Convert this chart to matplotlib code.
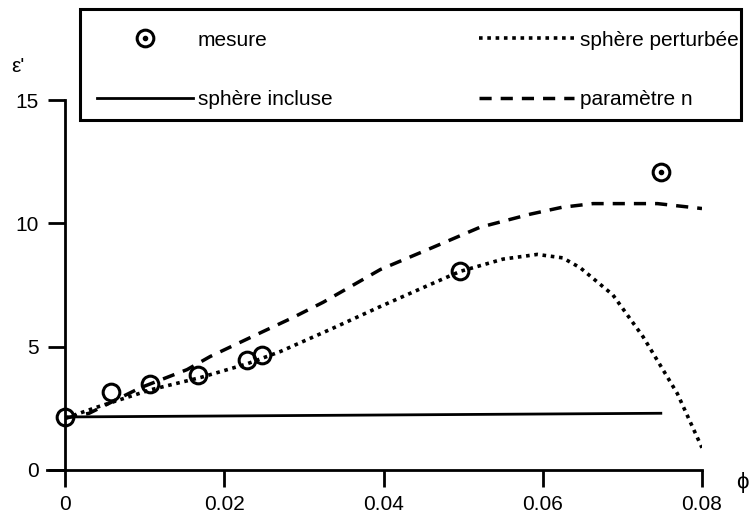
import matplotlib
matplotlib.use("Agg")
import matplotlib.pyplot as plt
from matplotlib.lines import Line2D
from matplotlib.patches import Rectangle

plt.rcParams['font.family'] = ['Liberation Sans', 'DejaVu Sans']

# mesures
phi_mes = [0.0, 0.0057, 0.0107, 0.0167, 0.0228, 0.0247, 0.0496, 0.0749]
eps_mes = [2.15, 3.15, 3.5, 3.85, 4.45, 4.65, 8.05, 12.1]

# sphere incluse
phi_inc = [0.0, 0.025, 0.05, 0.075]
eps_inc = [2.15, 2.2, 2.25, 2.3]

# sphere perturbee
phi_pert = [0.0, 0.004, 0.0107, 0.017, 0.0228, 0.027, 0.0333, 0.0396, 0.045,
            0.0496, 0.055, 0.0593, 0.0625, 0.0647, 0.0688, 0.0726, 0.0769, 0.08]
eps_pert = [2.1, 2.55, 3.25, 3.75, 4.3, 4.8, 5.7, 6.63, 7.4,
            8.05, 8.55, 8.74, 8.6, 8.2, 7.1, 5.4, 3.1, 0.9]

# parametre n
phi_n = [0.0, 0.003, 0.0094, 0.0153, 0.0182, 0.0241, 0.0286, 0.0324, 0.0396,
         0.046, 0.0521, 0.0584, 0.0624, 0.0663, 0.0744, 0.08]
eps_n = [2.1, 2.3, 3.33, 4.07, 4.6, 5.5, 6.18, 6.8, 8.13,
         9.0, 9.84, 10.37, 10.65, 10.8, 10.8, 10.6]

xticks = [0, 0.02, 0.04, 0.06, 0.08]
xticklabels = ["0", "0.02", "0.04", "0.06", "0.08"]
yticks = [0, 5, 10, 15]

dot_style = (0, (1.0, 1.3))
dash_style = (0, (3.5, 2.6))

fig = plt.figure(figsize=(7.52, 5.15), dpi=100)
ax = fig.add_axes([0.0625, 0.0874, 0.871, 0.7184])

ax.plot(phi_inc, eps_inc, color='black', lw=2.0, solid_capstyle='butt')
ax.plot(phi_pert, eps_pert, color='black', lw=2.6, linestyle=dot_style,
        dash_capstyle='butt')
ax.plot(phi_n, eps_n, color='black', lw=2.5, linestyle=dash_style)
ax.plot(phi_mes, eps_mes, linestyle='none', marker='o', markersize=12,
        markerfacecolor='none', markeredgecolor='black', markeredgewidth=2.2,
        clip_on=False, zorder=5)
ax.plot(phi_mes[-1:], eps_mes[-1:], linestyle='none', marker='o', markersize=3,
        color='black', zorder=6)

ax.set_xlim(-0.0023, 0.08)
ax.set_ylim(0, 15)
ax.spines['left'].set_position(('data', 0))
ax.spines['top'].set_visible(False)
ax.spines['right'].set_visible(False)
for s in ['left', 'bottom']:
    ax.spines[s].set_linewidth(2.0)

ax.set_xticks(xticks)
ax.set_xticklabels(xticklabels)
ax.set_yticks(yticks)
ax.tick_params(direction='out', length=12, width=2.0, labelsize=15, pad=6)
ax.tick_params(axis='y', pad=7)

fig.text(0.015, 0.87, "ε'", fontsize=15, ha='left', va='center')
fig.text(0.995, 0.063, "ϕ", fontsize=16, ha='right', va='center')

# legend box
fig.patches.append(Rectangle((80 / 752, 1 - 120 / 515), 661 / 752, 111 / 515,
                             transform=fig.transFigure, fill=False,
                             edgecolor='black', linewidth=2.2))

h_mes = (Line2D([], [], linestyle='none', marker='o', markersize=12,
                markerfacecolor='none', markeredgecolor='black', markeredgewidth=2.2),
         Line2D([], [], linestyle='none', marker='o', markersize=3, color='black'))
h_inc = Line2D([], [], color='black', lw=2.0)
h_pert = Line2D([], [], color='black', lw=2.6, linestyle=dot_style, dash_capstyle='butt')
h_n = Line2D([], [], color='black', lw=2.5, linestyle=dash_style)

leg = fig.legend([h_mes, h_inc, h_pert, h_n],
                 ["mesure", "sphère incluse", "sphère perturbée", "paramètre n"],
                 ncol=2, loc='upper left', bbox_to_anchor=(97 / 752, 0.9406),
                 fontsize=15, frameon=False, handlelength=4.6,
                 handletextpad=0.25, columnspacing=7.0, labelspacing=1.95,
                 borderpad=0, borderaxespad=0)

fig.savefig("out.png", dpi=100)
